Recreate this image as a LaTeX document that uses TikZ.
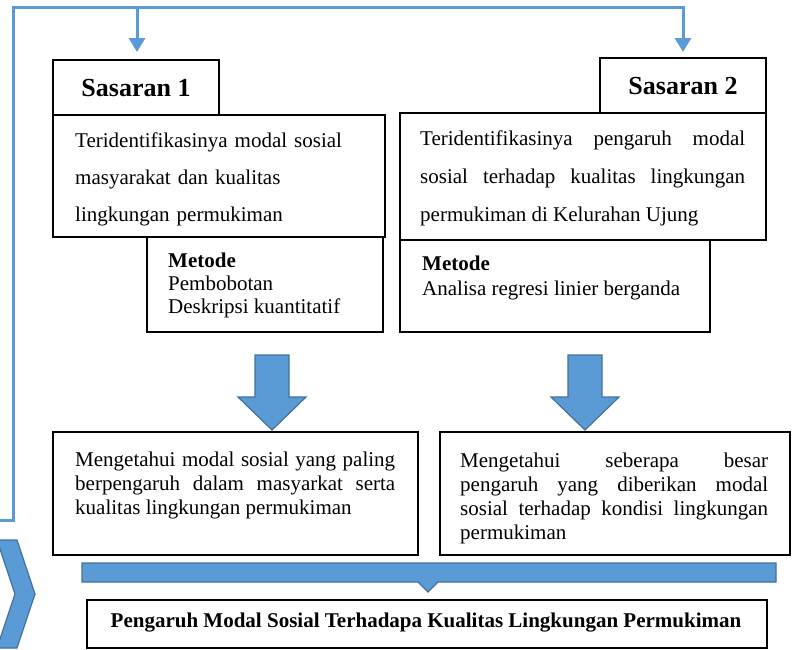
\documentclass[tikz,border=0pt]{standalone}
\usepackage{fontspec}
\setmainfont{Liberation Serif}
\usetikzlibrary{arrows.meta}
\definecolor{lblue}{RGB}{91,155,213}
\definecolor{dblue}{RGB}{65,113,156}
\tikzset{
  box/.style={draw=black, line width=1.3pt, fill=white},
  flow/.style={draw=lblue, line width=3pt},
  tip/.style={-{Triangle[width=16pt,length=14pt]}},
  bigarrow/.style={fill=lblue, draw=dblue, line width=1.2pt, line join=miter},
  txt/.style={inner sep=0pt, anchor=north west, font=\fontsize{21}{24}\selectfont},
  ttl/.style={inner sep=0pt, font=\fontsize{26}{30}\selectfont\bfseries},
}
\begin{document}
\begin{tikzpicture}[x=1pt,y=-1pt]
\useasboundingbox (0,0) rectangle (795,649);

% feedback connector
\coordinate (c0) at (0,520);
\coordinate (c1) at (13,520);
\coordinate (c2) at (13,7);
\coordinate (c3) at (137,7);
\coordinate (c4) at (683,7);
\draw[flow, line join=miter] (c0) -- (c1) -- (c2) -- (c4) -- ++(0,4);

% boxes
\draw[box] (53,60) rectangle (219,115);
\node[ttl] (s1) at (136,88) {Sasaran 1};
\draw[box] (600,58) rectangle (766,113);
\node[ttl] (s2) at (683,86) {Sasaran 2};

\draw[flow, tip] (c3) -- (137,52) coordinate (a1);
\draw[flow, tip] (c4) -- (683,52) coordinate (a2);

\draw[box] (53,115) rectangle (385,237);
\node[txt, font=\fontsize{21}{37}\selectfont, text width=300pt, align=left] (m1) at (75,133)
 {Teridentifikasinya modal sosial\\masyarakat dan kualitas\\lingkungan permukiman};

\draw[box] (400,113) rectangle (766,240);
\node[txt, font=\fontsize{21}{38}\selectfont, text width=325pt, align=justify] (m2) at (420,131)
 {Teridentifikasinya pengaruh modal\linebreak sosial terhadap kualitas lingkungan\linebreak permukiman di Kelurahan Ujung};

\draw[box] (147,237) rectangle (383,332);
\node[txt, font=\fontsize{21}{23}\selectfont, align=left] (t1) at (168,253)
 {\textbf{Metode}\\Pembobotan\\Deskripsi kuantitatif};

\draw[box] (400,240) rectangle (710,332);
\node[txt, font=\fontsize{21}{25}\selectfont, align=left] (t2) at (422,256)
 {\textbf{Metode}\\Analisa regresi linier berganda};

% big arrows
\draw[bigarrow] (255,355) -- (289,355) -- (289,397) -- (306,397) -- (272,430) -- (238,397) -- (255,397) -- cycle;
\draw[bigarrow] (568,355) -- (602,355) -- (602,397) -- (619,397) -- (585,430) -- (551,397) -- (568,397) -- cycle;

% results
\draw[box] (53,432) rectangle (418,555);
\node[txt, text width=320pt, align=justify] (r1) at (75,452)
 {Mengetahui modal sosial yang paling\linebreak berpengaruh dalam masyarkat serta\linebreak kualitas lingkungan permukiman};

\draw[box] (440,432) rectangle (790,555);
\node[txt, text width=308pt, align=justify] (r2) at (460,453)
 {Mengetahui seberapa besar\linebreak pengaruh yang diberikan modal\linebreak sosial terhadap kondisi lingkungan\linebreak permukiman};

% bar
\draw[bigarrow] (82,563) -- (776,563) -- (776,582) -- (438,582) -- (428,592) -- (418,582) -- (82,582) -- cycle;

% final
\draw[box] (87,600) rectangle (767,648);
\node[inner sep=0pt, font=\fontsize{21}{24}\selectfont\bfseries] (f) at (426,623)
 {Pengaruh Modal Sosial Terhadapa Kualitas Lingkungan Permukiman};

% chevron
\draw[bigarrow] (-3,540) -- (17,540) -- (35,594) -- (17,648) -- (-3,648) -- (15,594) -- cycle;
\end{tikzpicture}
\end{document}
